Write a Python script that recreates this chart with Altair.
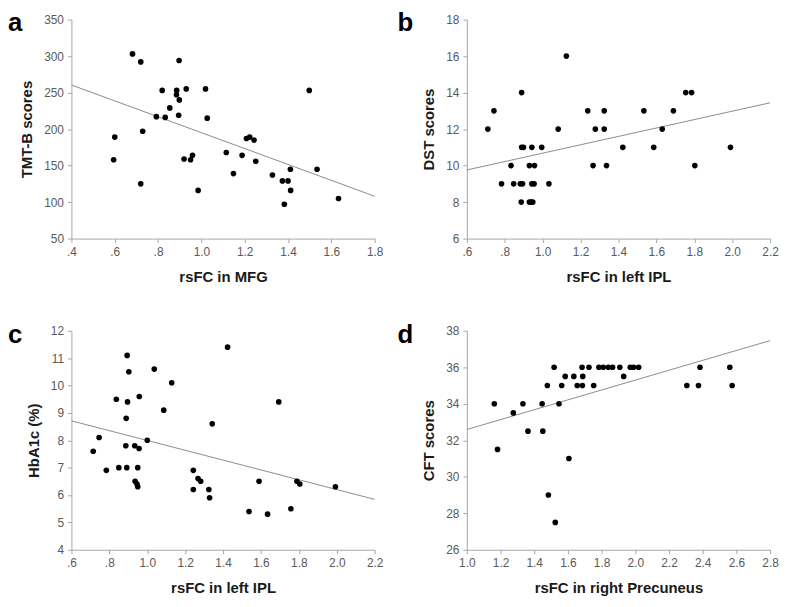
import altair as alt
import pandas as pd

# ---------------- data ----------------
a_x = [0.682, 0.720, 0.897, 0.819, 0.886, 0.885, 0.898, 0.930, 1.019, 0.854,
       0.792, 0.833, 0.895, 1.027, 0.600, 0.729, 0.595, 0.920, 0.950, 0.959,
       0.720, 0.985, 1.115, 1.148, 1.188, 1.208, 1.223, 1.243, 1.251, 1.328,
       1.374, 1.400, 1.411, 1.412, 1.383, 1.498, 1.534, 1.633]
a_y = [303, 292, 294, 253, 253, 247, 240, 255, 255, 229,
       217, 216, 219, 215, 189, 197, 158, 159, 158, 164,
       125, 116, 168, 139, 164, 187, 189, 185, 156, 137,
       129, 129, 145, 116, 97, 253, 145, 105]
a_line_x = [0.4, 1.8]
a_line_y = [260.4, 108.0]

b_x = [0.711, 0.743, 0.889, 1.125, 1.082, 0.833, 0.930, 0.957, 0.889, 0.899,
       0.943, 0.995, 0.783, 0.847, 0.882, 0.894, 0.943, 0.955, 1.033, 0.887,
       0.930, 0.939, 0.948, 1.238, 1.278, 1.266, 1.325, 1.325, 1.337, 1.423,
       1.534, 1.586, 1.631, 1.690, 1.755, 1.786, 1.803, 1.991]
b_y = [12, 13, 14, 16, 12, 10, 10, 10, 11, 11,
       11, 11, 9, 9, 9, 9, 9, 9, 9, 8,
       8, 8, 8, 13, 12, 10, 13, 12, 10, 11,
       13, 11, 12, 13, 14, 14, 10, 11]
b_line_x = [0.6, 2.2]
b_line_y = [9.76, 13.44]

c_x = [0.715, 0.746, 0.784, 0.837, 0.850, 0.894, 0.903, 0.896, 0.889, 0.887,
       0.892, 0.934, 0.957, 0.958, 0.950, 0.936, 0.946, 0.950, 1.000, 1.037,
       1.087, 1.129, 1.243, 1.243, 1.268, 1.282, 1.343, 1.325, 1.329, 1.424,
       1.694, 1.590, 1.537, 1.635, 1.758, 1.790, 1.805, 1.993]
c_y = [7.6, 8.1, 6.9, 9.5, 7.0, 11.1, 10.5, 9.4, 8.8, 7.8,
       7.0, 7.8, 7.7, 9.6, 7.0, 6.5, 6.4, 6.3, 8.0, 10.6,
       9.1, 10.1, 6.9, 6.2, 6.6, 6.5, 8.6, 6.2, 5.9, 11.4,
       9.4, 6.5, 5.4, 5.3, 5.5, 6.5, 6.4, 6.3]
c_line_x = [0.6, 2.2]
c_line_y = [8.71, 5.84]

d_x = [1.518, 1.684, 1.725, 1.784, 1.810, 1.840, 1.865, 1.908, 1.970, 1.990,
       2.020, 2.384, 2.561, 1.584, 1.635, 1.688, 1.931, 1.478, 1.563, 1.655,
       1.686, 1.753, 2.306, 2.375, 2.575, 1.163, 1.333, 1.447, 1.547, 1.276,
       1.363, 1.451, 1.182, 1.606, 1.484, 1.525]
d_y = [36, 36, 36, 36, 36, 36, 36, 36, 36, 36,
       36, 36, 36, 35.5, 35.5, 35.5, 35.5, 35, 35, 35,
       35, 35, 35, 35, 35, 34, 34, 34, 34, 33.5,
       32.5, 32.5, 31.5, 31, 29, 27.5]
d_line_x = [1.0, 2.8]
d_line_y = [32.59, 37.46]

a_xticks = [0.4, 0.6, 0.8, 1.0, 1.2, 1.4, 1.6, 1.8]
a_yticks = [50, 100, 150, 200, 250, 300, 350]
b_xticks = [0.6, 0.8, 1.0, 1.2, 1.4, 1.6, 1.8, 2.0, 2.2]
b_yticks = [6, 8, 10, 12, 14, 16, 18]
c_xticks = [0.6, 0.8, 1.0, 1.2, 1.4, 1.6, 1.8, 2.0, 2.2]
c_yticks = [4, 5, 6, 7, 8, 9, 10, 11, 12]
d_xticks = [1.0, 1.2, 1.4, 1.6, 1.8, 2.0, 2.2, 2.4, 2.6, 2.8]
d_yticks = [26, 28, 30, 32, 34, 36, 38]

FONT = "Liberation Sans"
W, H = 306, 221
LABEL_EXPR = ("datum.value < 1 ? replace(format(datum.value, '.1f'), '0.', '.') "
              ": format(datum.value, '.1f')")


def panel(xs, ys, lx, ly, xticks, yticks, xtitle, ytitle, letter, ldx):
    pts = pd.DataFrame({"x": xs, "y": ys})
    ln = pd.DataFrame({"x": lx, "y": ly})
    xscale = alt.Scale(domain=[xticks[0], xticks[-1]], nice=False, zero=False)
    yscale = alt.Scale(domain=[yticks[0], yticks[-1]], nice=False, zero=False)
    xaxis = alt.Axis(values=xticks, title=xtitle, labelExpr=LABEL_EXPR, grid=False,
                     titlePadding=12, labelPadding=4, labelOverlap=False,
                     labelFlush=False)
    yaxis = alt.Axis(values=yticks, title=ytitle, grid=False, titlePadding=9,
                     labelPadding=4, labelOverlap=False, labelFlush=False)
    points = alt.Chart(pts).mark_circle(size=32, color="black", opacity=1).encode(
        x=alt.X("x:Q", scale=xscale, axis=xaxis),
        y=alt.Y("y:Q", scale=yscale, axis=yaxis),
    )
    line = alt.Chart(ln).mark_line(color="#8c8c8c", strokeWidth=1).encode(
        x=alt.X("x:Q", scale=xscale, axis=xaxis),
        y=alt.Y("y:Q", scale=yscale, axis=yaxis),
    )
    lab = alt.Chart(pd.DataFrame({"t": [letter]})).mark_text(
        font=FONT, fontSize=26, fontWeight="bold", align="left", baseline="top",
        color="black"
    ).encode(x=alt.value(ldx), y=alt.value(-9), text="t:N")
    return alt.layer(line, points, lab).properties(width=W, height=H)


pa = panel(a_x, a_y, a_line_x, a_line_y, a_xticks, a_yticks,
           "rsFC in MFG", "TMT-B scores", "a", -64)
pb = panel(b_x, b_y, b_line_x, b_line_y, b_xticks, b_yticks,
           "rsFC in left IPL", "DST scores", "b", -70)
pc = panel(c_x, c_y, c_line_x, c_line_y, c_xticks, c_yticks,
           "rsFC in left IPL", "HbA1c (%)", "c", -64)
pd_ = panel(d_x, d_y, d_line_x, d_line_y, d_xticks, d_yticks,
            "rsFC in right Precuneus", "CFT scores", "d", -70)

chart = alt.concat(pa, pb, pc, pd_, columns=2, spacing=93, bounds="flush").properties(
    padding=0
).resolve_scale(x="independent", y="independent").configure_view(
    stroke=None
).configure_axis(
    labelFont=FONT, labelFontSize=12, labelColor="#595959",
    titleFont=FONT, titleFontSize=15, titleFontWeight="bold", titleColor="#1a1a1a",
    domainColor="#a6a6a6", tickColor="#a6a6a6", tickSize=4, domainWidth=1,
)

chart.save("out.html", embed_options={"renderer": "svg", "actions": False})
